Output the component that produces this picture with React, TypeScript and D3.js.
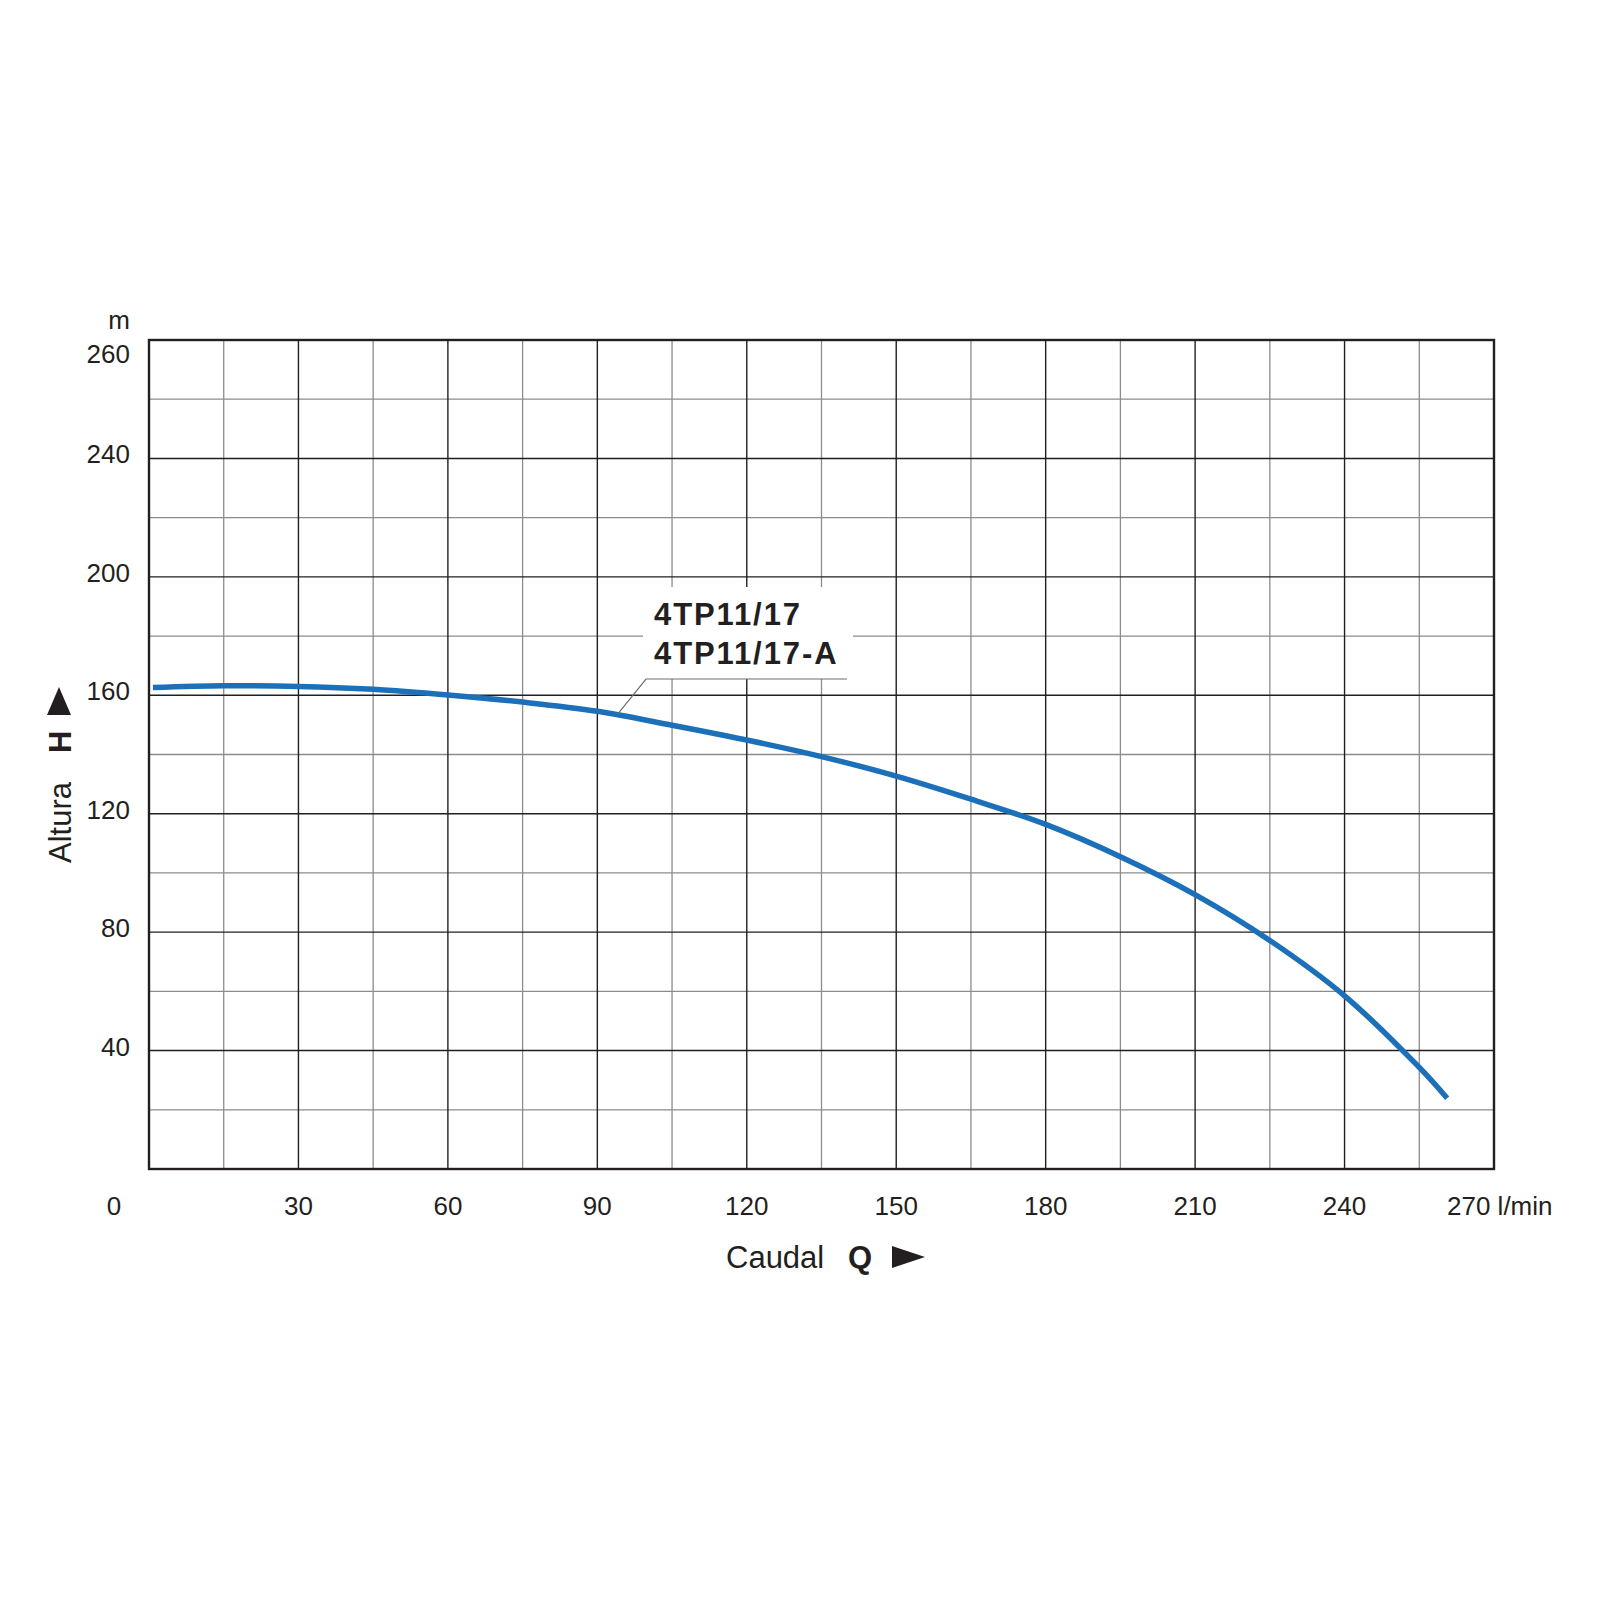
import React, { useEffect, useRef } from 'react';
import * as d3 from 'd3';

// pump curve: flow Q (l/min) vs head H (m)
const flowQ = [0.8, 15, 30, 45, 60, 75, 90, 105, 120, 135, 150, 165, 180, 195, 210, 225, 240, 255, 260.6];
const headH = [162.6, 163.2, 163.0, 162.0, 160.1, 157.7, 154.6, 149.9, 144.9, 139.3, 132.7, 124.9, 116.4, 105.5, 92.7, 77.2, 58.5, 34.3, 23.9];

const xTickValues = [30, 60, 90, 120, 150, 180, 210, 240];
const yTickValues = [40, 80, 120, 160, 200, 240];
const topYLabel = '260';
const modelNames = ['4TP11/17', '4TP11/17-A'];

const FONT = '"Liberation Sans", Arial, Helvetica, sans-serif';
const INK = '#231f20';

export default function App() {
    const svgRef = useRef<SVGSVGElement>(null);

    useEffect(() => {
        if (!svgRef.current) return;
        const svg = d3.select(svgRef.current);
        svg.selectAll('*').remove();

        const left = 149, right = 1494, top = 340, bottom = 1169;
        const x = d3.scaleLinear().domain([0, 270]).range([left, right]);
        const y = d3.scaleLinear().domain([0, 280]).range([bottom, top]);

        svg.append('rect').attr('width', 1600).attr('height', 1600).attr('fill', '#ffffff');

        const grid = svg.append('g');
        // minor grid (grey)
        grid.selectAll('.vminor').data(d3.range(15, 270, 30)).enter().append('line')
            .attr('x1', d => x(d)).attr('x2', d => x(d)).attr('y1', top).attr('y2', bottom)
            .attr('stroke', '#8c8c8c').attr('stroke-width', 1.3);
        grid.selectAll('.hminor').data(d3.range(20, 280, 40)).enter().append('line')
            .attr('x1', left).attr('x2', right).attr('y1', d => y(d)).attr('y2', d => y(d))
            .attr('stroke', '#8c8c8c').attr('stroke-width', 1.3);
        // major grid (dark)
        grid.selectAll('.vmajor').data(d3.range(30, 270, 30)).enter().append('line')
            .attr('x1', d => x(d)).attr('x2', d => x(d)).attr('y1', top).attr('y2', bottom)
            .attr('stroke', INK).attr('stroke-width', 1.4);
        grid.selectAll('.hmajor').data(d3.range(40, 280, 40)).enter().append('line')
            .attr('x1', left).attr('x2', right).attr('y1', d => y(d)).attr('y2', d => y(d))
            .attr('stroke', INK).attr('stroke-width', 1.4);

        // label box hides the grid behind the model names
        svg.append('rect')
            .attr('x', 643).attr('y', 587).attr('width', 210).attr('height', 92)
            .attr('fill', '#ffffff');

        // frame
        svg.append('rect')
            .attr('x', left).attr('y', top).attr('width', right - left).attr('height', bottom - top)
            .attr('fill', 'none').attr('stroke', INK).attr('stroke-width', 2.4);

        // curve
        const line = d3.line<number>()
            .x((_, i) => x(flowQ[i]))
            .y(d => y(d))
            .curve(d3.curveCatmullRom.alpha(0.5));
        svg.append('path')
            .attr('d', line(headH))
            .attr('fill', 'none')
            .attr('stroke', '#1b70b9')
            .attr('stroke-width', 5.5);

        // leader line to the curve
        const anchorQ = 94, anchorH = 153.5;
        svg.append('polyline')
            .attr('points', `${x(anchorQ)},${y(anchorH)} 646,679 847,679`)
            .attr('fill', 'none')
            .attr('stroke', '#6d6e71')
            .attr('stroke-width', 1.2);

        svg.selectAll('.model').data(modelNames).enter().append('text')
            .attr('x', 654)
            .attr('y', (_, i) => 625 + i * 39)
            .attr('font-family', FONT)
            .attr('font-weight', 'bold')
            .attr('font-size', 31)
            .attr('letter-spacing', 1.9)
            .attr('fill', INK)
            .text(d => d);

        // y tick labels
        const yl = svg.append('g').attr('font-family', FONT).attr('font-size', 26).attr('fill', INK).attr('text-anchor', 'end');
        yl.selectAll('text').data(yTickValues).enter().append('text')
            .attr('x', 130).attr('y', d => y(d) + 5).text(d => d);
        yl.append('text').attr('x', 130).attr('y', top + 23).text(topYLabel);
        yl.append('text').attr('x', 130).attr('y', top - 11).text('m');

        // x tick labels
        const xl = svg.append('g').attr('font-family', FONT).attr('font-size', 26).attr('fill', INK);
        xl.selectAll('text').data(xTickValues).enter().append('text')
            .attr('x', d => x(d)).attr('y', bottom + 46).attr('text-anchor', 'middle').text(d => d);
        xl.append('text').attr('x', x(0) - 35).attr('y', bottom + 46).attr('text-anchor', 'middle').text('0');
        xl.append('text').attr('x', x(270) - 47).attr('y', bottom + 46).text('270 l/min');

        // x axis title
        const xt = svg.append('g').attr('font-family', FONT).attr('font-size', 31).attr('fill', INK);
        xt.append('text').attr('x', 726).attr('y', 1268).text('Caudal');
        xt.append('text').attr('x', 848).attr('y', 1268).attr('font-weight', 'bold').text('Q');
        xt.append('path').attr('d', 'M892,1246 L925,1257 L892,1268 Z').attr('fill', INK);

        // y axis title
        const yt = svg.append('g').attr('font-family', FONT).attr('font-size', 31).attr('fill', INK);
        yt.append('text').attr('transform', 'translate(71,863) rotate(-90)').text('Altura');
        yt.append('text').attr('transform', 'translate(71,753) rotate(-90)').attr('font-weight', 'bold').text('H');
        yt.append('path').attr('d', 'M47,715 L59,687 L71,715 Z').attr('fill', INK);
    }, []);

    return (
        <svg
            ref={svgRef}
            width={1600}
            height={1600}
            style={{ position: 'absolute', left: 0, top: 0, display: 'block' }}
        />
    );
}
